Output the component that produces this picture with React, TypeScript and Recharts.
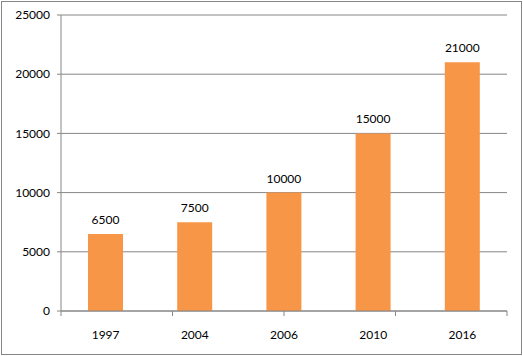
import { Bar, BarChart, CartesianGrid, LabelList, XAxis, YAxis } from "recharts";

const years = ["1997", "2004", "2006", "2010", "2016"];
const values = [6500, 7500, 10000, 15000, 21000];
const yTicks = [0, 5000, 10000, 15000, 20000, 25000];
const boundaryTicks = [0, 1, 2, 3, 4, 5];

const data = years.map((year, i) => ({ year, value: values[i] }));

const FONT = "Lato, 'Open Sans', sans-serif";
const LINE = "#868686";

export default function App() {
  return (
    <div
      style={{
        position: "absolute",
        left: 0,
        top: 0,
        width: 523,
        height: 356,
        background: "#fff",
        fontFamily: FONT,
      }}
    >
      <div
        style={{
          position: "absolute",
          left: 1,
          top: 1,
          width: 521,
          height: 354,
          border: `1px solid ${LINE}`,
          boxSizing: "border-box",
        }}
      />
      <BarChart
        width={523}
        height={356}
        data={data}
        margin={{ top: 15, right: 16, bottom: 20, left: 0 }}
        style={{ position: "absolute", left: 0, top: 0 }}
      >
        <CartesianGrid vertical={false} stroke={LINE} strokeWidth={1} />
        <XAxis
          xAxisId="a_edges"
          type="number"
          domain={[0, 5]}
          ticks={boundaryTicks}
          tickFormatter={() => ""}
          height={1}
          tickSize={5}
          stroke={LINE}
          axisLine={{ stroke: LINE }}
          tickLine={{ stroke: LINE }}
        />
        <XAxis
          xAxisId="b_cat"
          dataKey="year"
          axisLine={false}
          tickLine={false}
          tickMargin={12}
          height={24}
          tick={{ fill: "#000", fontSize: 12, fontFamily: FONT }}
        />
        <YAxis
          width={61}
          domain={[0, 25000]}
          ticks={yTicks}
          interval={0}
          tickSize={4}
          tickMargin={7}
          axisLine={{ stroke: LINE }}
          tickLine={{ stroke: LINE }}
          tick={{ fill: "#000", fontSize: 12, fontFamily: FONT }}
        />
        <Bar xAxisId="b_cat" dataKey="value" fill="#F79646" barSize={35} isAnimationActive={false}>
          <LabelList
            dataKey="value"
            position="top"
            offset={10}
            style={{ fill: "#000", fontSize: 12, fontFamily: FONT }}
          />
        </Bar>
      </BarChart>
    </div>
  );
}
